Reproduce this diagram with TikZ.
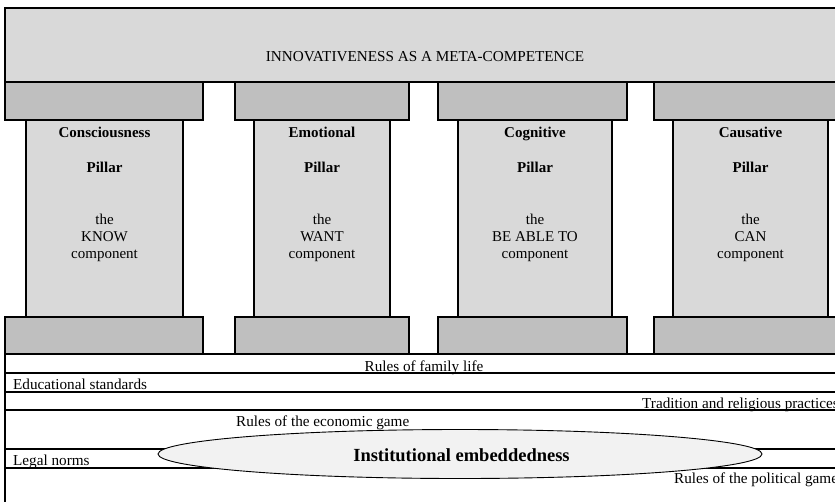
\documentclass[tikz,border=0pt]{standalone}
\usepackage{fontspec}
\setmainfont{Liberation Serif}
\usetikzlibrary{shapes.geometric}
\definecolor{roofgray}{HTML}{D9D9D9}
\definecolor{capgray}{HTML}{BFBFBF}
\definecolor{ellgray}{HTML}{F2F2F2}
\begin{document}
\begin{tikzpicture}[x=1pt,y=-1pt,
  blk/.style={draw=black,line width=2pt},
  roof/.style={blk,fill=roofgray},
  capb/.style={blk,fill=capgray},
  band/.style={draw=black,line width=2pt},
  lbl/.style={font=\fontsize{15.2}{18}\selectfont,inner sep=0pt},
  ptitle/.style={font=\bfseries\fontsize{15}{18}\selectfont,inner sep=0pt,anchor=base},
  ptext/.style={font=\fontsize{15}{18}\selectfont,inner sep=0pt,anchor=base}]
\useasboundingbox (0,0) rectangle (835,501);
\clip (0,0) rectangle (835,501);
% roof
\draw[roof] (5,8) rectangle (860,82);
\node[lbl,anchor=base] (roof) at (425,61) {INNOVATIVENESS AS A META-COMPETENCE};
% capitals
\draw[capb] (5,82) rectangle (203,120);
\draw[capb] (235,82) rectangle (409,120);
\draw[capb] (438,82) rectangle (627,120);
\draw[capb] (654,82) rectangle (860,120);
% shafts
\draw[roof] (26,120) rectangle (183,317);
\draw[roof] (254,120) rectangle (390,317);
\draw[roof] (458,120) rectangle (612,317);
\draw[roof] (673,120) rectangle (828,317);
% bases
\draw[capb] (5,317) rectangle (203,354);
\draw[capb] (235,317) rectangle (409,354);
\draw[capb] (438,317) rectangle (627,354);
\draw[capb] (654,317) rectangle (860,354);
% pillar texts
\node[ptitle] (t1) at (104.5,137) {Consciousness};
\node[ptitle] (p1) at (104.5,172) {Pillar};
\node[ptext] (a1) at (104.5,224) {the};
\node[ptext] (b1) at (104.5,241) {KNOW};
\node[ptext] (c1) at (104.5,258) {component};
\node[ptitle] (t2) at (322,137) {Emotional};
\node[ptitle] (p2) at (322,172) {Pillar};
\node[ptext] (a2) at (322,224) {the};
\node[ptext] (b2) at (322,241) {WANT};
\node[ptext] (c2) at (322,258) {component};
\node[ptitle] (t3) at (535,137) {Cognitive};
\node[ptitle] (p3) at (535,172) {Pillar};
\node[ptext] (a3) at (535,224) {the};
\node[ptext] (b3) at (535,241) {BE ABLE TO};
\node[ptext] (c3) at (535,258) {component};
\node[ptitle] (t4) at (750.5,137) {Causative};
\node[ptitle] (p4) at (750.5,172) {Pillar};
\node[ptext] (a4) at (750.5,224) {the};
\node[ptext] (b4) at (750.5,241) {CAN};
\node[ptext] (c4) at (750.5,258) {component};
% bands
\draw[band] (5,505) -- (5,354) -- (860,354);
\draw[band] (5,373) -- (860,373);
\draw[band] (5,392) -- (860,392);
\draw[band] (5,410) -- (860,410);
\draw[band] (5,449) -- (860,449);
\draw[band] (5,468) -- (860,468);
\node[lbl,anchor=base] (fam) at (424,371) {Rules of family life};
\node[lbl,anchor=base west] (edu) at (13,389.5) {Educational standards};
\node[lbl,anchor=base west] (trad) at (642,408) {Tradition and religious practices};
\node[lbl,anchor=base west] (econ) at (236,426) {Rules of the economic game};
\node[lbl,anchor=base west] (legal) at (13,465) {Legal norms};
\node[lbl,anchor=base west] (pol) at (674,483) {Rules of the political game};
% ellipse
\node[ellipse,draw=black,line width=0.9pt,fill=ellgray,minimum width=604pt,minimum height=49pt,inner sep=0pt] (emb) at (460,454) {};
\node[font=\bfseries\fontsize{18.5}{20}\selectfont,inner sep=0pt,anchor=base] (embt) at (461.5,461.5) {Institutional embeddedness};
\end{tikzpicture}
\end{document}
